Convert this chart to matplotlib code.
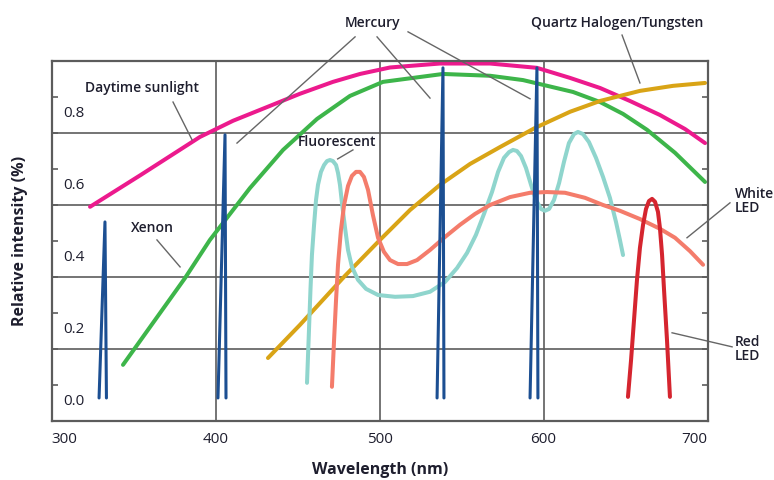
import matplotlib
matplotlib.use("Agg")
import matplotlib.pyplot as plt
import numpy as np

plt.rcParams['font.family'] = ['Open Sans', 'DejaVu Sans']

# spectra: wavelength (nm), relative intensity
sun_x = [323.5, 354.6, 390.5, 410.7, 431.4, 451.5, 471.6, 488.1, 506.4, 536.9, 567.4, 596.0,
         616.2, 634.5, 652.7, 671.0, 686.3, 698.5]
sun_y = [0.542, 0.631, 0.736, 0.781, 0.819, 0.856, 0.889, 0.911, 0.929, 0.940, 0.940, 0.928,
         0.900, 0.872, 0.836, 0.797, 0.758, 0.719]

xenon_x = [343.6, 381.4, 396.6, 421.0, 441.2, 461.9, 482.0, 502.1, 538.7, 567.4, 587.5, 618.0,
           634.5, 648.5, 663.1, 680.2, 698.5]
xenon_y = [0.103, 0.344, 0.450, 0.594, 0.700, 0.786, 0.850, 0.889, 0.911, 0.906, 0.894, 0.861,
           0.833, 0.800, 0.756, 0.692, 0.611]

halogen_x = [432.0, 451.5, 478.9, 500.3, 518.6, 536.9, 555.2, 573.5, 594.8, 616.2, 634.5,
             658.8, 679.0, 698.5]
halogen_y = [0.122, 0.214, 0.350, 0.450, 0.533, 0.603, 0.661, 0.708, 0.761, 0.806, 0.836,
             0.864, 0.878, 0.886]

fluor_x = [455.8, 457.0, 457.9, 458.8, 460.1, 461.3, 462.5, 464.3, 466.2, 468.0, 469.8, 471.6,
           473.5, 474.7, 475.9, 477.1, 479.0, 480.8, 483.2, 486.9, 491.8, 499.1, 509.5, 520.4,
           530.8, 539.9, 547.3, 553.4, 558.8, 563.7, 568.6, 572.3, 575.9, 579.0, 581.4, 583.8,
           586.3, 589.3, 592.4, 595.4, 598.5, 600.9, 603.4, 606.4, 609.5, 612.5, 615.5, 618.6,
           621.0, 624.1, 627.7, 632.0, 636.3, 640.5, 644.2, 646.6, 648.5]
fluor_y = [0.053, 0.200, 0.311, 0.408, 0.492, 0.561, 0.603, 0.639, 0.658, 0.669, 0.672, 0.669,
           0.658, 0.636, 0.603, 0.553, 0.483, 0.422, 0.375, 0.339, 0.314, 0.297, 0.292, 0.294,
           0.306, 0.333, 0.372, 0.414, 0.464, 0.522, 0.583, 0.639, 0.678, 0.694, 0.700, 0.697,
           0.683, 0.650, 0.603, 0.561, 0.536, 0.531, 0.536, 0.561, 0.608, 0.667, 0.719, 0.744,
           0.750, 0.744, 0.722, 0.678, 0.625, 0.567, 0.500, 0.450, 0.408]

white_led_x = [471.0, 472.3, 473.5, 474.7, 476.5, 478.4, 480.8, 483.2, 485.7, 488.1, 490.5,
               493.0, 496.0, 499.1, 502.7, 506.4, 511.3, 516.8, 522.9, 530.8, 539.9, 549.1,
               558.2, 567.4, 579.6, 591.8, 602.1, 613.1, 625.3, 636.3, 646.6, 658.8, 671.0,
               680.2, 689.3, 697.3]
white_led_y = [0.042, 0.172, 0.283, 0.381, 0.478, 0.547, 0.600, 0.628, 0.639, 0.639, 0.625,
               0.589, 0.519, 0.456, 0.417, 0.394, 0.383, 0.383, 0.394, 0.422, 0.458, 0.492,
               0.522, 0.547, 0.569, 0.581, 0.583, 0.581, 0.567, 0.547, 0.531, 0.508, 0.481,
               0.456, 0.419, 0.381]

red_led_x = [651.5, 653.4, 655.2, 657.0, 658.8, 660.7, 662.5, 664.3, 666.2, 668.0, 669.8,
             671.0, 672.3, 673.5, 675.3, 677.1]
red_led_y = [0.014, 0.117, 0.228, 0.339, 0.428, 0.492, 0.536, 0.558, 0.564, 0.556, 0.528,
             0.483, 0.408, 0.311, 0.172, 0.014]

# mercury lines: left foot, tip, right foot, tip height
hg_left = [329.0, 401.5, 535.1, 591.8]
hg_tip = [332.6, 405.8, 538.7, 596.0]
hg_right = [333.5, 406.4, 539.3, 596.6]
hg_height = [0.5, 0.742, 0.928, 0.928]
hg_base = 0.011

ytick_vals = [0.0, 0.2, 0.4, 0.6, 0.8]
xtick_vals = [300, 400, 500, 600, 700]

fig = plt.figure(figsize=(7.74, 4.80), dpi=100)
ax = fig.add_axes([51.5 / 774, 59 / 480, 656 / 774, 360 / 480])

lw = 2.9
kw = dict(solid_capstyle='round', solid_joinstyle='round')
ax.plot(sun_x, sun_y, color='#ec1a8d', lw=lw, **kw)
ax.plot(xenon_x, xenon_y, color='#3db54a', lw=lw, **kw)
ax.plot(halogen_x, halogen_y, color='#d9a416', lw=lw, **kw)
ax.plot(fluor_x, fluor_y, color='#8fd5cd', lw=lw, **kw)
ax.plot(white_led_x, white_led_y, color='#f47c6b', lw=lw, **kw)
ax.plot(red_led_x, red_led_y, color='#d5252f', lw=lw, **kw)
for l, t, r, h in zip(hg_left, hg_tip, hg_right, hg_height):
    ax.plot([l, t, r], [hg_base, h, hg_base], color='#1c4f92', lw=2.2, **kw)

ax.set_xlim(300, 700)
ax.set_ylim(-0.053, 0.947)

tc = '#1e1e2e'
grid_c = '#5c5c5c'
ax.set_xticks(xtick_vals)
ax.set_xticklabels([str(v) for v in xtick_vals], fontsize=11, color=tc)
labs = ax.get_xticklabels()
labs[0].set_horizontalalignment('left')
labs[-1].set_horizontalalignment('right')
ax.tick_params(axis='x', length=0, pad=8)

ax.set_yticks(np.arange(0.147, 0.9, 0.2))
ax.set_yticklabels([])
ax.set_yticks(np.arange(0.047, 0.9, 0.2), minor=True)
ax.tick_params(axis='y', which='both', direction='in', left=True, right=True,
               length=4, width=1.2, color=grid_c)
ax.grid(True, which='major', color=grid_c, lw=1.2)
ax.set_axisbelow(True)
for s in ax.spines.values():
    s.set_color(grid_c)
    s.set_linewidth(1.6)

for v in ytick_vals:
    ax.text(307, v, f"{v:.1f}", fontsize=11, color=tc, ha='left', va='center')

gc = '#666666'
def note(txt, xy, ha='center'):
    ax.text(xy[0], xy[1], txt, fontsize=10, fontweight='semibold', color=tc, ha=ha,
            va='center', linespacing=1.05, clip_on=False)

def pointer(p0, p1):
    ax.plot([p0[0], p1[0]], [p0[1], p1[1]], color=gc, lw=1.0, clip_on=False)

note("Daytime sunlight", (355.2, 0.872))
pointer((374.1, 0.833), (385.7, 0.728))
note("Mercury", (496.0, 1.053))
pointer((485.1, 1.014), (413.1, 0.719))
pointer((498.5, 1.014), (530.8, 0.844))
pointer((517.4, 1.028), (591.8, 0.842))
note("Quartz Halogen/Tungsten", (644.8, 1.053))
pointer((647.9, 1.019), (658.8, 0.886))
note("Fluorescent", (474.1, 0.722))
pointer((483.8, 0.70), (474.5, 0.675))
note("Xenon", (361.3, 0.483))
pointer((364.3, 0.45), (378.4, 0.375))
note("White\nLED", (716.6, 0.558), ha='left')
pointer((713.7, 0.553), (687.5, 0.456))
note("Red\nLED", (716.6, 0.147), ha='left')
pointer((715.0, 0.153), (678.4, 0.192))

fig.text(20 / 774, 1 - 241 / 480, "Relative intensity (%)", rotation=90, ha='center',
         va='center', fontsize=11.5, fontweight='bold', color=tc)
fig.text(380 / 774, 1 - 470 / 480, "Wavelength (nm)", ha='center', va='center',
         fontsize=11.5, fontweight='bold', color=tc)

fig.savefig("out.png", dpi=100)
